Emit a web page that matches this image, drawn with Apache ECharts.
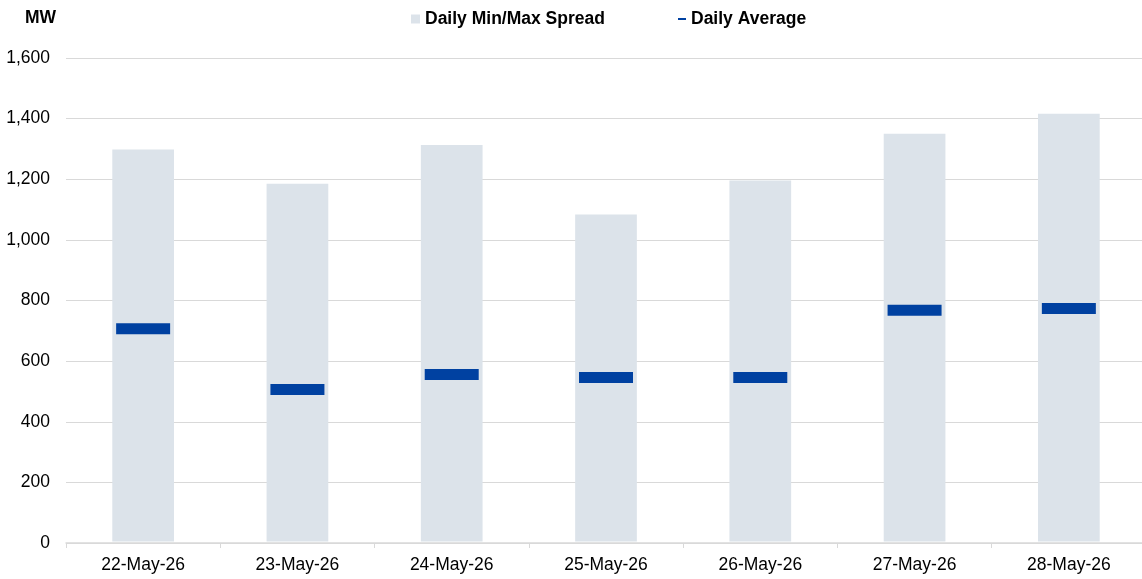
<!DOCTYPE html>
<html>
<head>
<meta charset="utf-8">
<script src="https://cdn.jsdelivr.net/npm/echarts@6/dist/echarts.min.js"></script>
<style>
html,body{margin:0;padding:0;background:#fff;overflow:hidden;}
#chart{width:1146px;height:579px;}
</style>
</head>
<body>
<div id="chart"></div>
<script>
const categories = ['22-May-26','23-May-26','24-May-26','25-May-26','26-May-26','27-May-26','28-May-26'];
const dailyMin = [5, 5, 5, 5, 5, 5, 5];
const dailyMax = [1298, 1185, 1313, 1084, 1196, 1350, 1416];
const dailyAvg = [707, 506, 556, 546, 546, 768, 774];
const yTicks = { min: 0, max: 1600, interval: 200 };

const spread = dailyMax.map((v, i) => v - dailyMin[i]);
const font = 'Liberation Sans, Arial, sans-serif';
const fs = 17.5;

const chart = echarts.init(document.getElementById('chart'));
chart.setOption({
  animation: false,
  textStyle: { fontFamily: font },
  grid: { left: 66, right: 0, top: 58, bottom: 36, containLabel: false },
  title: {
    text: 'MW', left: 20, top: 4,
    textStyle: { fontFamily: font, fontSize: fs, fontWeight: 'bold', color: '#000' }
  },
  legend: [
    {
      data: [{ name: 'Daily Min/Max Spread', icon: 'rect' }],
      left: 406, top: 5, itemWidth: 9, itemHeight: 9, selectedMode: false,
      textStyle: { fontFamily: font, fontSize: fs, fontWeight: 'bold', color: '#000' }
    },
    {
      data: [{ name: 'Daily Average', icon: 'rect' }],
      left: 673, top: 5, itemWidth: 8, itemHeight: 2, selectedMode: false,
      textStyle: { fontFamily: font, fontSize: fs, fontWeight: 'bold', color: '#000' }
    }
  ],
  xAxis: {
    type: 'category',
    data: categories,
    boundaryGap: true,
    axisLine: { show: true, lineStyle: { color: '#d9d9d9', width: 1.5 } },
    axisTick: { show: true, length: 5, alignWithLabel: false, lineStyle: { color: '#d9d9d9' } },
    axisLabel: { fontFamily: font, fontSize: fs, color: '#000', margin: 13 }
  },
  yAxis: {
    type: 'value',
    min: yTicks.min, max: yTicks.max, interval: yTicks.interval,
    axisLine: { show: false },
    axisTick: { show: false },
    splitLine: { lineStyle: { color: '#d9d9d9', width: 1 } },
    axisLabel: {
      fontFamily: font, fontSize: fs, color: '#000', margin: 16,
      formatter: v => v.toLocaleString('en-US')
    }
  },
  series: [
    {
      name: 'base', type: 'bar', stack: 'r', data: dailyMin, barWidth: '40%',
      itemStyle: { color: 'rgba(0,0,0,0)' }, silent: true
    },
    {
      name: 'Daily Min/Max Spread', type: 'bar', stack: 'r', data: spread, barWidth: '40%',
      itemStyle: { color: '#DCE3EA' }
    },
    {
      name: 'Daily Average', type: 'scatter', data: dailyAvg,
      symbol: 'rect', symbolSize: [54, 11],
      itemStyle: { color: '#0041A1', opacity: 1 }, z: 5
    }
  ]
});
</script>
</body>
</html>
